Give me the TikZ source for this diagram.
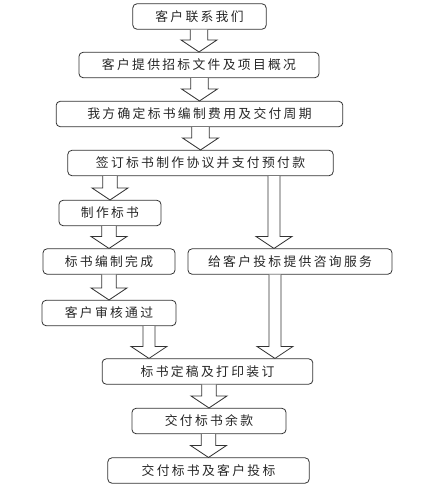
\documentclass[tikz,border=0pt]{standalone}
\usepackage{fontspec}
\newfontfamily\cjk{Noto Sans CJK SC}[LetterSpace=18]
\usetikzlibrary{calc, positioning}

\begin{document}
\begin{tikzpicture}[
        x=0.75pt, y=-0.75pt,
        font=\cjk\fontsize{9.6}{11}\selectfont,
        every node/.style={text=black!85},
        box/.style={draw=black!80, rounded corners=3pt, minimum height=19pt, inner sep=0pt, line width=0.6pt},
        fat/.style={draw=black!80, line width=0.6pt, fill=white,
            to path={let \p1=(\tikztostart), \p2=(\tikztotarget) in
                (\x2-#1,\y1) -- (\x2-#1,\y2+9pt) -- (\x2-13.5pt,\y2+9pt) -- (\x2,\y2)
                -- (\x2+13.5pt,\y2+9pt) -- (\x2+#1,\y2+9pt) -- (\x2+#1,\y1)}},
        fat/.default=6.5pt
    ]
        \useasboundingbox (0,0) rectangle (442,490);
        % main column
        \node[box, minimum width=100pt] (b1) at (199.5,16.5) {客户联系我们};
        \node[box, minimum width=180pt] (b2) at (199,65) {客户提供招标文件及项目概况};
        \node[box, minimum width=215pt] (b3) at (199.5,114) {我方确定标书编制费用及交付周期};
        \node[box, minimum width=199pt] (b4) at (200.5,163) {签订标书制作协议并支付预付款};
        % left branch
        \node[box, minimum width=76.5pt] (b5) at (110,213) {制作标书};
        \node[box, minimum width=99pt] (b6) at (109,261.5) {标书编制完成};
        \node[box, minimum width=100.5pt] (b7) at (109,313) {客户审核通过};
        % right branch
        \node[box, minimum width=153pt] (b8) at (290,261.5) {给客户投标提供咨询服务};
        % end
        \node[box, minimum width=158pt] (b9) at (207.5,371.5) {标书定稿及打印装订};
        \node[box, minimum width=115.5pt] (b10) at (209,421) {交付标书余款};
        \node[box, minimum width=151pt] (b11) at (208.5,470.5) {交付标书及客户投标};

        \draw[fat] (b1.south) to (b2.north);
        \draw[fat] (b2.south) to (b3.north);
        \draw[fat] (b3.south) to (b4.north);
        \draw[fat=5.5pt] (b4.south) to (b5.north);
        \draw[fat=4.5pt] (b4.south) to ([xshift=-12pt]b8.north);
        \draw[fat=5.5pt] (b5.south) to (b6.north);
        \draw[fat=5.5pt] (b6.south) to (b7.north);
        \draw[fat=4.5pt] (b7.south) to ([xshift=-43.9pt]b9.north);
        \draw[fat=4.5pt] (b8.south) to ([xshift=50.6pt]b9.north);
        \draw[fat=5.5pt] (b9.south) to (b10.north);
        \draw[fat=5.5pt] (b10.south) to (b11.north);
\end{tikzpicture}
\end{document}
